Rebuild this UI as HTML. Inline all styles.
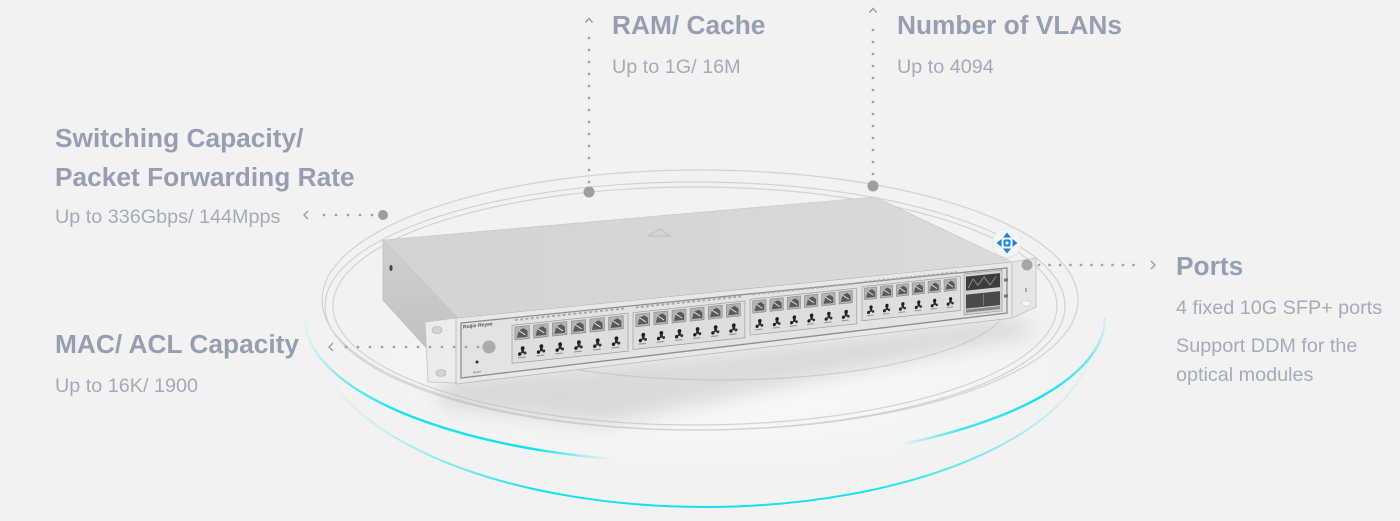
<!DOCTYPE html>
<html><head><meta charset="utf-8"><style>
html,body{margin:0;padding:0;background:#f2f2f2;}
svg{display:block;}
.t{font-family:"Liberation Sans",Arial,sans-serif;font-weight:bold;font-size:26.3px;fill:#959eb2;}
.s{font-family:"Liberation Sans",Arial,sans-serif;font-size:19.8px;fill:#a3abbb;}
</style></head><body>
<svg width="1400" height="521" viewBox="0 0 1400 521" xmlns="http://www.w3.org/2000/svg">
<defs>
  <linearGradient id="cy1" gradientUnits="userSpaceOnUse" x1="300" y1="0" x2="1110" y2="0">
    <stop offset="0" stop-color="#12e2ee" stop-opacity="0"/>
    <stop offset="0.05" stop-color="#12e2ee" stop-opacity="0.5"/>
    <stop offset="0.125" stop-color="#12e2ee" stop-opacity="1"/>
    <stop offset="0.285" stop-color="#12e2ee" stop-opacity="1"/>
    <stop offset="0.385" stop-color="#12e2ee" stop-opacity="0"/>
    <stop offset="0.74" stop-color="#12e2ee" stop-opacity="0"/>
    <stop offset="0.815" stop-color="#12e2ee" stop-opacity="0.8"/>
    <stop offset="0.915" stop-color="#12e2ee" stop-opacity="1"/>
    <stop offset="0.975" stop-color="#12e2ee" stop-opacity="0.6"/>
    <stop offset="1" stop-color="#12e2ee" stop-opacity="0"/>
  </linearGradient>
  <linearGradient id="cy2" gradientUnits="userSpaceOnUse" x1="320" y1="0" x2="1100" y2="0">
    <stop offset="0" stop-color="#12e2ee" stop-opacity="0"/>
    <stop offset="0.13" stop-color="#12e2ee" stop-opacity="0.35"/>
    <stop offset="0.28" stop-color="#12e2ee" stop-opacity="1"/>
    <stop offset="0.7" stop-color="#12e2ee" stop-opacity="1"/>
    <stop offset="0.87" stop-color="#12e2ee" stop-opacity="0.45"/>
    <stop offset="1" stop-color="#12e2ee" stop-opacity="0"/>
  </linearGradient>
  <radialGradient id="glow" cx="0.5" cy="0.5" r="0.5">
    <stop offset="0" stop-color="#ffffff" stop-opacity="0.7"/>
    <stop offset="1" stop-color="#ffffff" stop-opacity="0"/>
  </radialGradient>
  <linearGradient id="topf" x1="0" y1="0" x2="1" y2="0">
    <stop offset="0" stop-color="#d3d3d3"/>
    <stop offset="1" stop-color="#dadada"/>
  </linearGradient>
  <linearGradient id="side" x1="0" y1="0" x2="0" y2="1">
    <stop offset="0" stop-color="#d0d0d0"/>
    <stop offset="1" stop-color="#bdbdbd"/>
  </linearGradient>
  <filter id="blur" x="-20%" y="-50%" width="140%" height="200%"><feGaussianBlur stdDeviation="10"/></filter>
  <filter id="sh" x="-50%" y="-50%" width="200%" height="200%"><feGaussianBlur stdDeviation="1.2"/></filter>

  <g id="cage"><rect width="15" height="13" fill="#b3b3b3" stroke="#7a7a7a" stroke-width=".5"/><path d="M2 11 L4 4 L9 2 L13 5 L13 11 Z" fill="#595959"/><path d="M4 4 L11 9" stroke="#dedede" stroke-width="1"/></g>
  <g id="conn"><circle cx="8" cy="4" r="2" fill="#1e1e1e"/><rect x="6.5" y="5" width="3" height="4" fill="#2a2a2a"/><circle cx="5" cy="9.5" r="1.8" fill="#222"/><circle cx="10.5" cy="9" r="1.5" fill="#333"/><rect x="3" y="12.5" width="8" height="1.2" fill="#9a9a9a"/></g>
  <g id="grp">
    <path d="M3 -5 H117" stroke="#a8a8a8" stroke-width="2" stroke-dasharray="3 2.5"/>
    <rect x="0" y="0" width="120" height="38" fill="#dedede" stroke="#9a9a9a" stroke-width=".7"/>
    <use href="#cage" x="3" y="2"/><use href="#cage" x="22.4" y="2"/><use href="#cage" x="41.8" y="2"/>
    <use href="#cage" x="61.2" y="2"/><use href="#cage" x="80.6" y="2"/><use href="#cage" x="100" y="2"/>
    <use href="#conn" x="3" y="20"/><use href="#conn" x="22.4" y="20"/><use href="#conn" x="41.8" y="20"/>
    <use href="#conn" x="61.2" y="20"/><use href="#conn" x="80.6" y="20"/><use href="#conn" x="100" y="20"/>
  </g>
</defs>

<rect width="1400" height="521" fill="#f2f2f2"/>
<ellipse cx="720" cy="370" rx="360" ry="110" fill="url(#glow)"/>

<!-- gray rings -->
<g fill="none" stroke="#d2d2d2" stroke-width="1.2">
  <ellipse cx="700" cy="300" rx="378" ry="130"/>
  <ellipse cx="695" cy="306" rx="370" ry="124"/>
  <ellipse cx="695" cy="306" rx="362" ry="119"/>
  <ellipse cx="720" cy="300" rx="290" ry="80" stroke="#d6d6d6"/>
</g>

<!-- cyan arcs -->
<path d="M305 318 A400 145 0 0 0 1105 318" fill="none" stroke="url(#cy1)" stroke-width="2.4"/>
<path d="M315 330 A390 177 0 0 0 1095 330" fill="none" stroke="url(#cy2)" stroke-width="2"/>

<!-- shadow -->
<polygon points="440,380 1012,318 1040,332 600,425 440,405" fill="#b5b5b5" opacity="0.45" filter="url(#blur)"/>

<!-- switch -->
<polygon points="383,240 458,318 458,383 383,300" fill="url(#side)" stroke="#b8b8b8" stroke-width=".6"/>
<ellipse cx="391" cy="268" rx="1.6" ry="3" fill="#444"/>
<polygon points="383,240 875,197 1012,262 458,318" fill="url(#topf)" stroke="#c6c6c6" stroke-width=".6"/>
<polygon points="648,236 660,229 670,236" fill="none" stroke="#bcbcbc" stroke-width="1"/>
<line x1="458" y1="318" x2="1012" y2="262" stroke="#ededed" stroke-width="1.5"/>

<!-- left ear -->
<polygon points="425,322 456,318 456,383 428,382" fill="#ececec" stroke="#c2c2c2" stroke-width=".8"/>
<ellipse cx="437" cy="330" rx="5" ry="3.5" fill="#d4d4d4" stroke="#a8a8a8" stroke-width=".6"/>
<ellipse cx="441" cy="373" rx="5" ry="3.5" fill="#d4d4d4" stroke="#a8a8a8" stroke-width=".6"/>

<!-- front panel -->
<polygon points="456,318 1012,262 1012,318 456,384" fill="#e8e8e8" stroke="#b8b8b8" stroke-width=".8"/>
<polygon points="461,323 1007,268 1007,313 461,378" fill="#e3e3e3" stroke="#8e8e8e" stroke-width="1.3"/>

<g transform="matrix(1,-0.105,0,1,458,318)">
  <text x="5" y="11" font-family="Liberation Sans, Arial, sans-serif" font-size="5" font-weight="bold" fill="#555">Ruijie  Reyee</text>
  <circle cx="19" cy="46" r="1.5" fill="#333"/>
  <text x="15" y="57" font-family="Liberation Sans, Arial, sans-serif" font-size="3" fill="#666">Reset</text>
  <use href="#grp" transform="translate(54,13) scale(0.967,1)"/>
  <use href="#grp" transform="translate(175,13) scale(0.933,0.97)"/>
  <use href="#grp" transform="translate(292,12) scale(0.89,0.94)"/>
  <use href="#grp" transform="translate(404,11) scale(0.82,0.9)"/>
  <rect x="506" y="9" width="38" height="41" fill="#d2d2d2" stroke="#999" stroke-width=".6"/>
  <rect x="508" y="12" width="34" height="14" fill="#3c3c3c"/>
  <path d="M510 24 L515 15 L520 22 L526 14 L532 23 L538 15" stroke="#8a8a8a" stroke-width="1" fill="none"/>
  <rect x="508" y="30" width="34" height="14" fill="#4a4a4a"/>
  <rect x="525" y="31" width="1" height="12" fill="#777"/>
  <rect x="508" y="45" width="34" height="3" fill="#8a8a8a"/>
  <rect x="546" y="18" width="4" height="3" fill="#777"/>
  <rect x="546" y="34" width="4" height="3" fill="#777"/>
</g>

<!-- right ear -->
<polygon points="1012,262 1036,258 1036,307 1012,318" fill="#e6e6e6" stroke="#c0c0c0" stroke-width=".8"/>
<rect x="1025" y="288" width="2" height="4" fill="#aaa"/>
<rect x="1022" y="301" width="8" height="5" fill="#f6f6f6" stroke="#bbb" stroke-width=".5"/>

<!-- connectors -->
<g stroke="#a4a4a4" stroke-width="2.8" stroke-linecap="round" stroke-dasharray="0 12" fill="none">
  <line x1="589" y1="38" x2="589" y2="184"/>
  <line x1="873" y1="30" x2="873" y2="176"/>
  <line x1="372" y1="215" x2="316" y2="215"/>
  <line x1="478" y1="347" x2="340" y2="347"/>
  <line x1="1039" y1="265" x2="1144" y2="265" stroke-dasharray="0 10.5"/>
</g>
<g stroke="#9c9c9c" stroke-width="1.4" fill="none">
  <polyline points="585.5,22.5 589,18.5 592.5,22.5"/>
  <polyline points="869.5,12.5 873,8.5 876.5,12.5"/>
  <polyline points="308,211 304,215 308,219"/>
  <polyline points="333,343 329,347 333,351"/>
  <polyline points="1151,261 1155,265 1151,269"/>
</g>
<g fill="#9e9e9e">
  <circle cx="589" cy="192" r="5.5"/>
  <circle cx="873" cy="186" r="5.5"/>
  <circle cx="383" cy="215" r="5"/>
  <circle cx="489" cy="347" r="6.5" fill="#ababab"/>
  <circle cx="1027" cy="265" r="5.5" fill="#a6a6a6"/>
</g>

<!-- move icon -->
<circle cx="1007" cy="244" r="14" fill="#cfcfcf" opacity=".6" filter="url(#sh)"/>
<circle cx="1007" cy="243" r="14" fill="#f5f5f5"/>
<g fill="#1b84e0">
  <polygon points="1007,232.5 1003,237.5 1011,237.5"/>
  <polygon points="1007,253.5 1003,248.5 1011,248.5"/>
  <polygon points="996.5,243 1001.5,239 1001.5,247"/>
  <polygon points="1017.5,243 1012.5,239 1012.5,247"/>
  <rect x="1003.5" y="239.5" width="7" height="7" rx="2"/>
</g>
<circle cx="1007" cy="243" r="1.6" fill="#fff"/>

<!-- text -->
<text class="t" x="612" y="34">RAM/ Cache</text>
<text class="s" x="612" y="73">Up to 1G/ 16M</text>
<text class="t" x="897" y="34">Number of VLANs</text>
<text class="s" x="897" y="73">Up to 4094</text>
<text class="t" x="55" y="147">Switching Capacity/</text>
<text class="t" x="55" y="186">Packet Forwarding Rate</text>
<text class="s" x="55" y="223">Up to 336Gbps/ 144Mpps</text>
<text class="t" x="55" y="353">MAC/ ACL Capacity</text>
<text class="s" x="55" y="392">Up to 16K/ 1900</text>
<text class="t" x="1176" y="275">Ports</text>
<text class="s" x="1176" y="314">4 fixed 10G SFP+ ports</text>
<text class="s" x="1176" y="352">Support DDM for the</text>
<text class="s" x="1176" y="381">optical modules</text>
</svg>
</body></html>
